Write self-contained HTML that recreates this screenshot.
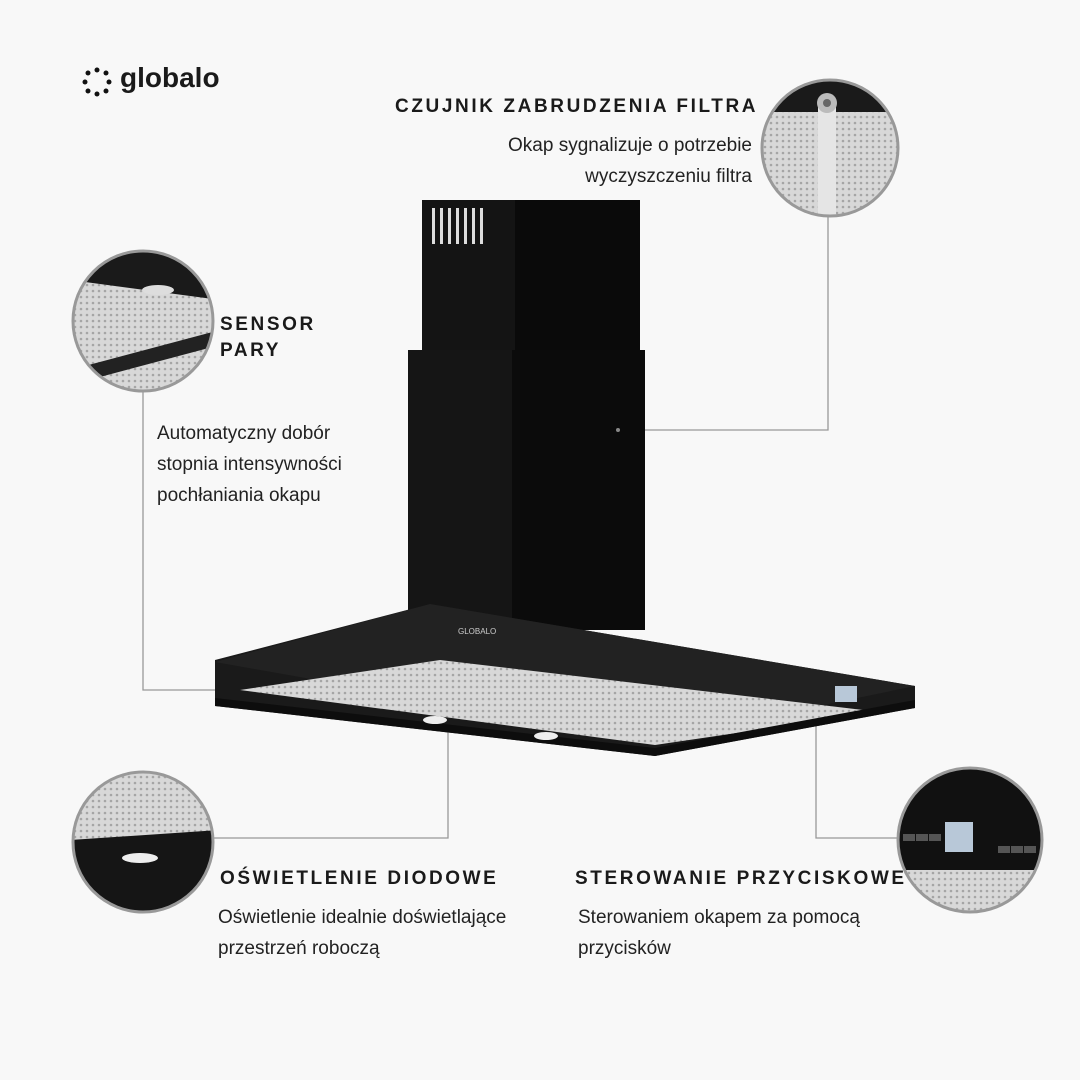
<!DOCTYPE html>
<html><head><meta charset="utf-8"><style>
body{margin:0;width:1080px;height:1080px;background:#f8f8f8;position:relative;overflow:hidden;font-family:"Liberation Sans",sans-serif;color:#1a1a1a}
.t{position:absolute;white-space:nowrap}
.h{font-weight:bold;letter-spacing:2.6px;font-size:19px}
.p{font-size:19px;line-height:31px;color:#222}
</style></head><body>
<svg width="1080" height="1080" style="position:absolute;left:0;top:0">
<defs>
<pattern id="mesh" width="6" height="6" patternUnits="userSpaceOnUse"><rect width="6" height="6" fill="#d8d8d8"/><circle cx="3" cy="3" r="1.3" fill="#a5a5a5"/></pattern>
<clipPath id="c1"><circle cx="830" cy="148" r="67"/></clipPath>
<clipPath id="c2"><circle cx="143" cy="321" r="69"/></clipPath>
<clipPath id="c3"><circle cx="143" cy="842" r="69"/></clipPath>
<clipPath id="c4"><circle cx="970" cy="840" r="71"/></clipPath>
</defs>
<g stroke="#999" stroke-width="1.3" fill="none">
<polyline points="618,430 828,430 828,215"/>
<polyline points="143,392 143,690 300,690"/>
<polyline points="448,722 448,838 214,838"/>
<polyline points="816,700 816,838 898,838"/>
</g>
<rect x="422" y="200" width="218" height="160" fill="#141414"/>
<rect x="515" y="200" width="125" height="160" fill="#0a0a0a"/>
<g fill="#ddd"><rect x="432" y="208" width="3" height="36"/><rect x="440" y="208" width="3" height="36"/><rect x="448" y="208" width="3" height="36"/><rect x="456" y="208" width="3" height="36"/><rect x="464" y="208" width="3" height="36"/><rect x="472" y="208" width="3" height="36"/><rect x="480" y="208" width="3" height="36"/></g>
<rect x="408" y="350" width="237" height="280" fill="#151515"/>
<rect x="512" y="350" width="133" height="280" fill="#0b0b0b"/>
<circle cx="618" cy="430" r="2" fill="#888"/>
<polygon points="430,604 915,686 915,708 655,756 215,706 215,660" fill="#1a1a1a"/>
<polygon points="215,662 430,604 915,686 655,740" fill="#222"/>
<polygon points="240,690 440,660 880,712 655,745" fill="url(#mesh)"/>
<polygon points="215,706 655,756 915,708 915,700 655,748 215,698" fill="#0d0d0d"/>
<ellipse cx="435" cy="720" rx="12" ry="4" fill="#eee"/>
<ellipse cx="546" cy="736" rx="12" ry="4" fill="#eee"/>
<rect x="835" y="686" width="22" height="16" fill="#b8c8d8"/>
<text x="458" y="634" font-size="8" fill="#ccc" font-family="Liberation Sans">GLOBALO</text>
<g clip-path="url(#c1)"><rect x="760" y="80" width="140" height="140" fill="url(#mesh)"/><rect x="760" y="80" width="140" height="32" fill="#1a1a1a"/><rect x="818" y="100" width="18" height="120" fill="#e5e5e5"/><circle cx="827" cy="103" r="10" fill="#bbb"/><circle cx="827" cy="103" r="4" fill="#666"/></g>
<circle cx="830" cy="148" r="68" fill="none" stroke="#999" stroke-width="3"/>
<g clip-path="url(#c2)"><rect x="70" y="250" width="150" height="150" fill="url(#mesh)"/><polygon points="70,250 220,250 220,300 70,280" fill="#1a1a1a"/><ellipse cx="158" cy="290" rx="16" ry="5" fill="#ddd"/><polygon points="70,370 220,330 220,345 70,385" fill="#222"/></g>
<circle cx="143" cy="321" r="70" fill="none" stroke="#999" stroke-width="3"/>
<g clip-path="url(#c3)"><rect x="70" y="770" width="150" height="150" fill="url(#mesh)"/><polygon points="70,840 220,830 220,920 70,920" fill="#151515"/><ellipse cx="140" cy="858" rx="18" ry="5" fill="#eee"/></g>
<circle cx="143" cy="842" r="70" fill="none" stroke="#999" stroke-width="3"/>
<g clip-path="url(#c4)"><rect x="896" y="766" width="150" height="150" fill="#111"/><rect x="896" y="870" width="150" height="50" fill="url(#mesh)"/><rect x="945" y="822" width="28" height="30" fill="#b8c8d8"/><g fill="#555"><rect x="903" y="834" width="12" height="7"/><rect x="916" y="834" width="12" height="7"/><rect x="929" y="834" width="12" height="7"/><rect x="998" y="846" width="12" height="7"/><rect x="1011" y="846" width="12" height="7"/><rect x="1024" y="846" width="12" height="7"/></g></g>
<circle cx="970" cy="840" r="72" fill="none" stroke="#999" stroke-width="3"/>
<g fill="#111"><circle cx="97" cy="70" r="2.5"/><circle cx="97" cy="94" r="2.5"/><circle cx="85" cy="82" r="2.5"/><circle cx="109" cy="82" r="2.5"/><circle cx="88" cy="73" r="2.5"/><circle cx="106" cy="73" r="2.5"/><circle cx="88" cy="91" r="2.5"/><circle cx="106" cy="91" r="2.5"/></g>
</svg>
<div class="t" style="left:120px;top:62px;font-size:28px;font-weight:bold">globalo</div>
<div class="t h" style="left:395px;top:96px">CZUJNIK ZABRUDZENIA FILTRA</div>
<div class="t p" style="right:328px;top:130px;text-align:right">Okap sygnalizuje o potrzebie<br>wyczyszczeniu filtra</div>
<div class="t h" style="left:220px;top:312px;line-height:26px">SENSOR<br>PARY</div>
<div class="t p" style="left:157px;top:418px">Automatyczny dobór<br>stopnia intensywności<br>pochłaniania okapu</div>
<div class="t h" style="left:220px;top:868px">OŚWIETLENIE DIODOWE</div>
<div class="t p" style="left:218px;top:902px">Oświetlenie idealnie doświetlające<br>przestrzeń roboczą</div>
<div class="t h" style="left:575px;top:868px">STEROWANIE PRZYCISKOWE</div>
<div class="t p" style="left:578px;top:902px">Sterowaniem okapem za pomocą<br>przycisków</div>
</body></html>
